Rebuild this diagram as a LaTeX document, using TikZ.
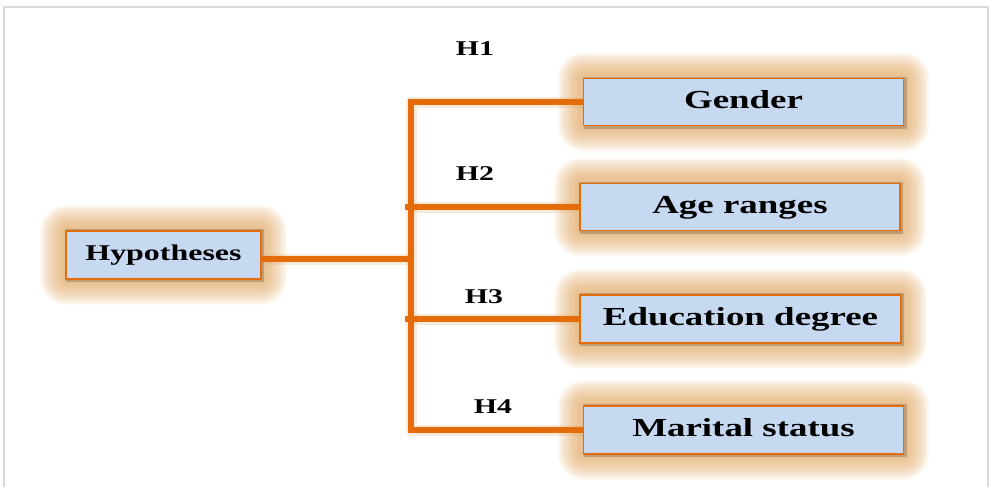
\documentclass[tikz,border=0pt]{standalone}
\usepackage{fontspec}
\newfontfamily\boxfont{Liberation Serif}[FakeStretch=1.42]
\usetikzlibrary{backgrounds}
\definecolor{lineor}{RGB}{228,108,10}
\definecolor{boxfill}{RGB}{198,217,241}
\definecolor{glowc}{RGB}{224,165,95}
\definecolor{framec}{RGB}{217,217,217}
\tikzset{
  hbox/.style={draw=lineor, line width=1.5pt, fill=boxfill, inner sep=0pt,
    minimum width=320pt, minimum height=47pt, text height=18pt, text depth=6pt,
    font=\boxfont\bfseries\fontsize{26}{26}\selectfont},
  hypbox/.style={hbox, minimum width=195pt, minimum height=48pt,
    text height=16pt, text depth=5pt,
    font=\boxfont\bfseries\fontsize{22.5}{22.5}\selectfont},
  hlabel/.style={inner sep=0pt, font=\boxfont\bfseries\fontsize{21}{21}\selectfont},
  conn/.style={draw=lineor, line width=5.5pt, line join=miter},
  connglow/.style={draw=glowc, line width=11pt, opacity=0.22, line join=round},
  framel/.style={draw=framec, line width=2pt}
}
\newcommand{\boxglow}[1]{%
  \foreach \i in {1,...,22}{%
    \fill[glowc, opacity=0.055, rounded corners={2pt+\i*1.1pt}]
      ([shift={(-\i*1.15pt,\i*1.15pt)}]#1.north west) rectangle
      ([shift={(\i*1.15pt,-\i*1.15pt)}]#1.south east);
  }%
  \fill[black, opacity=0.18] ([shift={(1pt,1pt)}]#1.north west) rectangle ([shift={(2.5pt,-2.5pt)}]#1.south east);
}
\begin{document}
\begin{tikzpicture}[x=1pt,y=-1pt]
\useasboundingbox (0,0) rectangle (990,487);
% frame
\coordinate (fbl) at (4,487);
\coordinate (ftl) at (4,7);
\coordinate (ftr) at (988,7);
\coordinate (fbr) at (988,487);
\draw[framel] (fbl) -- (ftl) -- (ftr) -- (fbr);

% boxes
\node[hypbox] (hyp) at (163.5,255) {Hypotheses};
\node[hbox] (gen) at (743.5,102) {Gender};
\node[hbox] (age) at (740,207) {Age ranges};
\node[hbox, minimum width=321pt, minimum height=48pt] (edu) at (740.5,319) {Education degree};
\node[hbox, minimum height=48pt] (mar) at (743.5,430) {Marital status};

% labels
\node[hlabel] (h1) at (475,49) {H1};
\node[hlabel] (h2) at (475,174) {H2};
\node[hlabel] (h3) at (484,297) {H3};
\node[hlabel] (h4) at (493,407) {H4};

\coordinate (sp) at (411,0);
\coordinate (hypout) at ([yshift=-4pt]hyp.east);

\begin{scope}[on background layer]
  \boxglow{hyp}
  \boxglow{gen}
  \boxglow{age}
  \boxglow{edu}
  \boxglow{mar}
  \draw[connglow] (gen.west) -- (gen.west -| sp) -- (mar.west -| sp) -- (mar.west);
  \draw[connglow] (age.west -| sp) -- (age.west);
  \draw[connglow] (edu.west -| sp) -- (edu.west);
  \draw[connglow] (hypout) -- (hypout -| sp);
\end{scope}

% connectors
\draw[conn] (gen.west) -- (gen.west -| sp) -- (mar.west -| sp) -- (mar.west);
\draw[conn] ([xshift=-6pt]age.west -| sp) -- (age.west);
\draw[conn] ([xshift=-6pt]edu.west -| sp) -- (edu.west);
\draw[conn] (hypout) -- ([xshift=-3pt]hypout -| sp);
\end{tikzpicture}
\end{document}
